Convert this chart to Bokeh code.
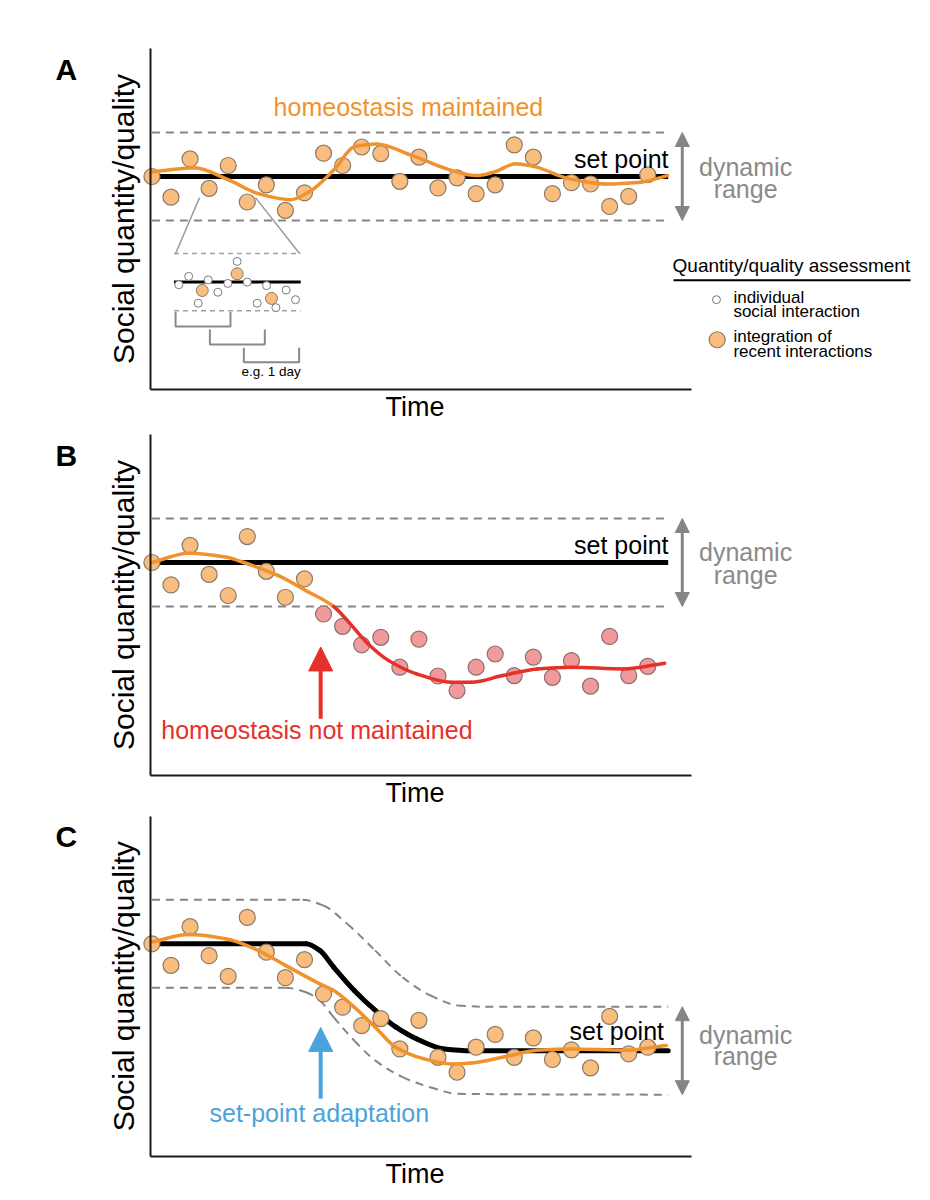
import numpy as np
from bokeh.plotting import figure
from bokeh.layouts import column
from bokeh.models import Range1d, Arrow, NormalHead, FixedTicker, ColumnDataSource
from bokeh.core.properties import value
from bokeh.embed import file_html
from bokeh.resources import INLINE

FONT = value("Liberation Sans")

# ---------------- data (time index, value relative to initial set point; dynamic range = +-1) ----------------
T = list(range(27))

A_VALUES = [0.0, -0.47, 0.40, -0.27, 0.25, -0.58, -0.19, -0.77, -0.37, 0.53, 0.25, 0.67, 0.52, -0.11,
            0.44, -0.26, -0.03, -0.39, -0.19, 0.72, 0.44, -0.39, -0.14, -0.17, -0.68, -0.45, 0.04]
A_TREND_T = [0, 2.21, 4.08, 5.58, 7.27, 8.21, 9.52, 10.64, 11.76, 13.63, 15.69, 17.01, 17.94, 19.07,
             20.00, 21.88, 23.75, 25.62, 27.03]
A_TREND_V = [0.10, 0.20, -0.09, -0.39, -0.53, -0.36, 0.14, 0.68, 0.74, 0.48, 0.14, 0.02, 0.10, 0.29,
             0.23, -0.05, -0.17, -0.13, 0.02]

B_VALUES = [0.0, -0.51, 0.39, -0.27, -0.75, 0.59, -0.20, -0.79, -0.37, -1.17, -1.45, -1.87, -1.70, -2.38,
            -1.74, -2.58, -2.91, -2.38, -2.08, -2.57, -2.15, -2.61, -2.23, -2.81, -1.68, -2.57, -2.36]
B_STATE = ["ok"] * 9 + ["lost"] * 18
B_TREND_T = [0, 1.93, 3.92, 4.82, 6.63, 8.08, 9.53, 10.25, 11.34, 12.42, 13.87, 15.67, 16.76, 18.39,
             20.20, 22.00, 24.72, 26.89]
B_TREND_V = [0.0, 0.21, 0.12, 0.0, -0.30, -0.64, -1.0, -1.32, -1.85, -2.23, -2.53, -2.72, -2.72, -2.57,
             -2.42, -2.38, -2.42, -2.29]
B_BREAK_T = 9.53

C_VALUES = [0.0, -0.49, 0.39, -0.27, -0.74, 0.60, -0.19, -0.77, -0.36, -1.14, -1.44, -1.86, -1.70, -2.39,
            -1.74, -2.58, -2.92, -2.35, -2.06, -2.58, -2.14, -2.63, -2.41, -2.82, -1.65, -2.50, -2.35]
C_TREND_T = [0, 1.93, 3.92, 5.37, 7.0, 8.80, 9.53, 10.61, 11.70, 12.78, 14.23, 15.67, 16.76, 18.39,
             20.20, 22.00, 24.72, 26.98]
C_TREND_V = [0.04, 0.21, 0.11, -0.11, -0.49, -0.91, -1.06, -1.44, -1.89, -2.35, -2.61, -2.73, -2.71, -2.58,
             -2.42, -2.39, -2.42, -2.31]
C_SET_T = [0, 8.08, 8.80, 9.53, 10.61, 11.70, 12.78, 13.87, 15.31, 16.76, 27.07]
C_SET_V = [0, 0, -0.15, -0.53, -1.06, -1.51, -1.89, -2.16, -2.39, -2.43, -2.43]
C_UP_T = [0, 7.90, 8.99, 10.25, 11.70, 13.14, 14.59, 16.04, 17.48, 27.07]
C_UP_V = [1.0, 1.0, 0.87, 0.45, -0.15, -0.76, -1.17, -1.40, -1.43, -1.43]
C_LO_T = [0, 7.0, 8.08, 8.80, 9.53, 10.61, 11.70, 13.15, 14.59, 16.04, 27.07]
C_LO_V = [-1.0, -1.0, -1.1, -1.29, -1.67, -2.2, -2.65, -3.03, -3.26, -3.41, -3.43]

SET_T = [0, 27.07]
SET_V = [0, 0]
RANGE_HALF = 1.0

# inset of panel A: individual interactions and rolling integration windows
INSET_SINGLE_T = [1.41, 1.93, 2.43, 2.95, 3.46, 3.98, 4.47, 5.00, 5.52, 6.01, 6.50, 7.04, 7.53]
INSET_SINGLE_V = [-2.46, -2.27, -2.88, -2.35, -2.63, -2.43, -1.93, -2.40, -2.88, -2.48, -2.98, -2.58, -2.80]
INSET_INTEG_T = [2.64, 4.47, 6.27]
INSET_INTEG_V = [-2.59, -2.21, -2.77]
INSET_T = [1.16, 7.80]
INSET_SET_V = -2.40
INSET_TOP_V = -1.75
INSET_BOT_V = -3.05
WINDOW_START = [1.24, 3.04, 4.82]
WINDOW_END = [4.12, 5.92, 7.72]
WINDOW_TOP = [-3.08, -3.48, -3.89]
WINDOW_BOT = [-3.41, -3.82, -4.22]

# ---------------- style ----------------
ORANGE = "#F0922E"
DOT_FILL = "#F8BD7F"
DOT_LINE = "#8C7A66"
PINK_FILL = "#F09A9C"
PINK_LINE = "#8C6E6E"
RED = "#E5312A"
BLUE = "#4CA3DB"
GRAY = "#858585"
DYN = "#8A8A8A"

PX_X = 19.07      # pixels per time step
PX_Y = 44.0       # pixels per value unit
W = 928
X_START, X_END = -7.939, 40.72
AX_LEFT, AX_RIGHT = -0.05, 28.3
AX_BOTTOM, AX_TOP = -4.83, 2.9
ARROW_T = 27.81


def pchip_segments(xs, ys):
    x = np.asarray(xs, float)
    y = np.asarray(ys, float)
    h = np.diff(x)
    d = np.diff(y) / h
    m = np.empty_like(x)
    m[0], m[-1] = d[0], d[-1]
    for i in range(1, len(x) - 1):
        if d[i - 1] * d[i] <= 0:
            m[i] = 0.0
        else:
            w1 = 2 * h[i] + h[i - 1]
            w2 = h[i] + 2 * h[i - 1]
            m[i] = (w1 + w2) / (w1 / d[i - 1] + w2 / d[i])
    return dict(x0=x[:-1], y0=y[:-1], x1=x[1:], y1=y[1:],
                cx0=x[:-1] + h / 3, cy0=y[:-1] + m[:-1] * h / 3,
                cx1=x[1:] - h / 3, cy1=y[1:] - m[1:] * h / 3)


def make_fig(y0, y1, height):
    p = figure(width=W, height=height, x_range=Range1d(X_START, X_END), y_range=Range1d(y0, y1),
               output_backend="svg", toolbar_location=None, min_border=0)
    p.outline_line_color = None
    p.grid.visible = False
    for ax in (p.xaxis[0], p.yaxis[0]):
        ax.ticker = FixedTicker(ticks=[])
        ax.major_tick_line_color = None
        ax.minor_tick_line_color = None
        ax.major_label_text_font_size = "0px"
        ax.axis_line_color = "#1a1a1a"
        ax.axis_line_width = 2
    p.xaxis.fixed_location = AX_BOTTOM
    p.xaxis.bounds = (AX_LEFT, AX_RIGHT)
    p.yaxis.fixed_location = AX_LEFT
    p.yaxis.bounds = (AX_BOTTOM, AX_TOP)
    return p


def txt(p, x, y, s, size=25, color="black", align="left", style="normal"):
    # y is the wanted baseline; the glyph is anchored at its vertical middle
    yc = y + 0.346 * size / PX_Y
    p.text(x=[x], y=[yc], text=[s], text_font=FONT, text_font_size=f"{size}px", text_color=color,
           text_align=align, text_baseline="middle", text_font_style=style)


def common(p, letter):
    txt(p, -5.06, 2.2, letter, size=30, style="bold")
    p.text(x=[-1.515], y=[(AX_BOTTOM + AX_TOP) / 2], text=["Social quantity/quality"], text_font=FONT,
           text_font_size="30px", text_color="black", text_align="center", text_baseline="middle",
           angle=np.pi / 2)
    txt(p, 13.8, -5.45, "Time", size=27, align="center")


def flat_band(p, sp):
    p.line(SET_T, [v + sp + RANGE_HALF for v in SET_V], line_color=GRAY, line_width=2, line_dash="8 6")
    p.line(SET_T, [v + sp - RANGE_HALF for v in SET_V], line_color=GRAY, line_width=2, line_dash="8 6")


def dyn_arrow(p, sp):
    head = dict(size=14, fill_color=GRAY, line_color=GRAY)
    p.add_layout(Arrow(start=NormalHead(**head), end=NormalHead(**head), x_start=ARROW_T,
                       y_start=sp - RANGE_HALF, x_end=ARROW_T, y_end=sp + RANGE_HALF,
                       line_color=GRAY, line_width=3))


def dyn_text(p, y1, y2):
    txt(p, 31.13, y1, "dynamic", color=DYN, align="center")
    txt(p, 31.13, y2, "range", color=DYN, align="center")


def trend(p, xs, ys, color="color", src_extra=None, width=3.5, dash="solid", cap="round"):
    seg = pchip_segments(xs, ys)
    if src_extra:
        seg.update(src_extra)
    p.bezier(x0="x0", y0="y0", x1="x1", y1="y1", cx0="cx0", cy0="cy0", cx1="cx1", cy1="cy1",
             source=ColumnDataSource(seg), line_color=color, line_width=width, line_cap=cap,
             line_dash=dash)


# ---------------- Panel A ----------------
pA = make_fig(-5.659, 4.0, 425)
common(pA, "A")
flat_band(pA, 0)
pA.line(SET_T, SET_V, line_color="black", line_width=5)
pA.segment(x0=[2.50, 5.43], y0=[-0.48, -0.48], x1=[INSET_T[0] + 0.08, INSET_T[1] - 0.06],
           y1=[INSET_TOP_V, INSET_TOP_V], line_color="#9a9a9a", line_width=1.5)
pA.scatter(T, A_VALUES, size=16, fill_color=DOT_FILL, line_color=DOT_LINE, line_width=1.2)
trend(pA, A_TREND_T, A_TREND_V, color=ORANGE)
dyn_arrow(pA, 0)
dyn_text(pA, 0.02, -0.47)
txt(pA, 27.09, 0.21, "set point", align="right")
txt(pA, 13.45, 1.39, "homeostasis maintained", color=ORANGE, align="center")

# inset
pA.line(INSET_T, [INSET_TOP_V] * 2, line_color="#a0a0a0", line_width=1.5, line_dash="5 4")
pA.line(INSET_T, [INSET_BOT_V] * 2, line_color="#a0a0a0", line_width=1.5, line_dash="5 4")
pA.line(INSET_T, [INSET_SET_V] * 2, line_color="black", line_width=3)
pA.scatter(INSET_SINGLE_T, INSET_SINGLE_V, size=8, fill_color="white", line_color="#7a7a7a", line_width=1)
pA.scatter(INSET_INTEG_T, INSET_INTEG_V, size=12, fill_color=DOT_FILL, line_color=DOT_LINE, line_width=1)
pA.multi_line(xs=[[s, s, e, e] for s, e in zip(WINDOW_START, WINDOW_END)],
              ys=[[t, b, b, t] for t, b in zip(WINDOW_TOP, WINDOW_BOT)],
              line_color="#8a8a8a", line_width=2)
txt(pA, 4.70, -4.54, "e.g. 1 day", size=13.5)

# legend
txt(pA, 27.3, -2.175, "Quantity/quality assessment", size=19)
pA.line([27.35, 39.78], [-2.36, -2.36], line_color="black", line_width=2)
pA.scatter([29.6], [-2.80], size=8, fill_color="white", line_color="#7a7a7a", line_width=1)
pA.scatter([29.64], [-3.71], size=16, fill_color=DOT_FILL, line_color=DOT_LINE, line_width=1.2)
txt(pA, 30.49, -2.89, "individual", size=17)
txt(pA, 30.49, -3.21, "social interaction", size=17)
txt(pA, 30.49, -3.77, "integration of", size=17)
txt(pA, 30.49, -4.12, "recent interactions", size=17)

# ---------------- Panel B ----------------
pB = make_fig(-5.682, 3.114, 387)
common(pB, "B")
flat_band(pB, 0)
pB.line(SET_T, SET_V, line_color="black", line_width=5)
fills = [DOT_FILL if s == "ok" else PINK_FILL for s in B_STATE]
lines = [DOT_LINE if s == "ok" else PINK_LINE for s in B_STATE]
pB.scatter(x="t", y="v", source=ColumnDataSource(dict(t=T, v=B_VALUES, f=fills, l=lines)),
           size=16, fill_color="f", line_color="l", line_width=1.2)
segB = pchip_segments(B_TREND_T, B_TREND_V)
trend(pB, B_TREND_T, B_TREND_V,
      src_extra=dict(color=[ORANGE if x1 <= B_BREAK_T + 1e-9 else RED for x1 in segB["x1"]]))
dyn_arrow(pB, 0)
dyn_text(pB, 0.05, -0.47)
txt(pB, 27.09, 0.2, "set point", align="right")
pB.add_layout(Arrow(end=NormalHead(size=24, fill_color=RED, line_color=RED), x_start=8.85, y_start=-3.55,
                    x_end=8.85, y_end=-1.92, line_color=RED, line_width=4))
txt(pB, 0.49, -4.0, "homeostasis not maintained", color=RED)

# ---------------- Panel C ----------------
pC = make_fig(-5.789, 2.984, 386)
common(pC, "C")
trend(pC, C_UP_T, C_UP_V, color=GRAY, width=2, dash="8 6", cap="butt")
trend(pC, C_LO_T, C_LO_V, color=GRAY, width=2, dash="8 6", cap="butt")
trend(pC, C_SET_T, C_SET_V, color="black", width=5)
pC.scatter(T, C_VALUES, size=16, fill_color=DOT_FILL, line_color=DOT_LINE, line_width=1.2)
trend(pC, C_TREND_T, C_TREND_V, color=ORANGE)
dyn_arrow(pC, C_SET_V[-1])
dyn_text(pC, -2.27, -2.75)
txt(pC, 26.85, -2.18, "set point", align="right")
pC.add_layout(Arrow(end=NormalHead(size=24, fill_color=BLUE, line_color=BLUE), x_start=8.85, y_start=-3.52,
                    x_end=8.85, y_end=-1.90, line_color=BLUE, line_width=4))
txt(pC, 3.02, -4.05, "set-point adaptation", color=BLUE)

layout = column(pA, pB, pC, spacing=0)
open("out.html", "w").write(file_html(layout, INLINE))
